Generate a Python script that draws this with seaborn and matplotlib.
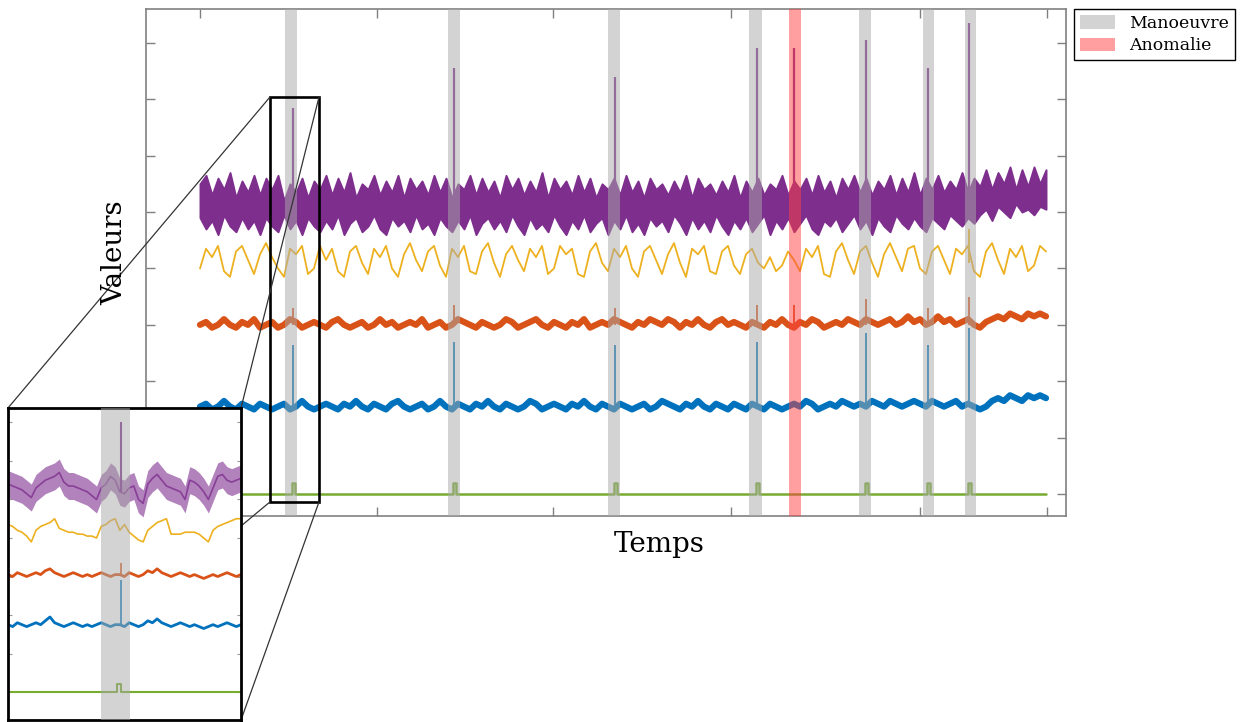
import numpy as np
import matplotlib
matplotlib.use('Agg')
import matplotlib.pyplot as plt
from matplotlib.patches import Patch, Rectangle, ConnectionPatch
import seaborn as sns

# ---- main window : one sample every 6 time steps ----
t_step = 6
purple_hi = [110, 113, 106, 112, 108, 114, 105, 111, 107, 113,
             106, 112, 108, 113, 104, 110, 107, 112, 105, 111,
             108, 113, 106, 112, 107, 114, 105, 110, 108, 113,
             106, 111, 107, 113, 105, 112, 108, 111, 106, 113,
             107, 112, 105, 110, 108, 113, 106, 112, 107, 111,
             105, 113, 108, 112, 106, 111, 107, 114, 105, 112,
             108, 111, 106, 113, 107, 112, 105, 110, 108, 112,
             106, 113, 107, 111, 105, 112, 108, 110, 106, 111,
             107, 113, 105, 112, 108, 110, 106, 111, 107, 113,
             105, 111, 107, 112, 106, 110, 108, 113, 106, 111,
             108, 112, 106, 113, 107, 111, 105, 112, 108, 113,
             107, 112, 106, 111, 108, 113, 106, 112, 107, 114,
             106, 112, 108, 113, 107, 111, 108, 114, 107, 112,
             109, 115, 108, 114, 110, 116, 108, 115, 109, 116,
             110, 115]
purple_lo = [98, 94, 97, 92, 99, 95, 93, 98, 94, 97,
             92, 98, 95, 93, 99, 94, 97, 92, 98, 95,
             93, 97, 94, 99, 92, 96, 98, 93, 95, 99,
             94, 92, 98, 95, 97, 93, 99, 94, 96, 92,
             98, 95, 93, 97, 94, 99, 92, 96, 98, 94,
             97, 93, 99, 95, 92, 98, 94, 96, 93, 99,
             95, 92, 97, 94, 99, 93, 96, 98, 92, 97,
             94, 99, 93, 96, 92, 98, 95, 97, 93, 99,
             96, 92, 98, 94, 97, 93, 99, 95, 92, 97,
             94, 98, 93, 96, 99, 92, 97, 94, 98, 93,
             96, 99, 94, 92, 97, 95, 98, 93, 96, 99,
             94, 97, 92, 98, 95, 93, 99, 96, 94, 98,
             95, 93, 98, 96, 94, 99, 97, 95, 98, 96,
             99, 101, 97, 102, 100, 98, 103, 100, 101, 99,
             102, 101]
yellow = [80, 87, 84, 88, 79, 77, 86, 88, 83, 78,
          85, 89, 84, 80, 77, 87, 85, 88, 78, 80,
          88, 83, 87, 79, 77, 86, 88, 82, 78, 87,
          84, 88, 80, 77, 85, 89, 83, 79, 86, 88,
          81, 77, 87, 84, 88, 79, 78, 86, 89, 82,
          77, 85, 88, 83, 79, 87, 84, 88, 78, 80,
          88, 85, 87, 78, 77, 86, 89, 82, 79, 87,
          84, 88, 80, 77, 86, 88, 83, 78, 85, 89,
          82, 77, 87, 85, 88, 79, 78, 86, 88, 81,
          78, 85, 87, 82, 80, 84, 79, 81, 86, 83,
          79, 87, 84, 88, 78, 77, 86, 89, 83, 78,
          86, 88, 82, 77, 85, 89, 84, 79, 87, 88,
          80, 78, 86, 88, 83, 78, 87, 85, 88, 79,
          77, 86, 89, 83, 78, 87, 84, 88, 79, 81,
          88, 86]
orange = [60, 61, 59, 60, 62, 60, 59, 61, 60, 62,
          59, 60, 61, 59, 60, 62, 61, 59, 60, 61,
          60, 59, 61, 62, 60, 59, 60, 61, 59, 60,
          62, 60, 61, 59, 60, 61, 60, 62, 59, 60,
          61, 59, 60, 62, 61, 60, 59, 61, 60, 59,
          60, 62, 61, 59, 60, 61, 62, 60, 59, 61,
          60, 59, 61, 60, 62, 59, 60, 61, 60, 62,
          61, 60, 59, 61, 60, 62, 61, 60, 62, 61,
          59, 61, 60, 62, 60, 59, 61, 62, 60, 61,
          60, 59, 61, 60, 59, 61, 60, 62, 60, 59,
          61, 60, 62, 61, 59, 60, 61, 60, 62, 61,
          60, 62, 61, 60, 61, 62, 60, 61, 63, 61,
          62, 60, 61, 63, 61, 62, 60, 61, 62, 60,
          59, 61, 62, 63, 62, 64, 63, 62, 64, 63,
          64, 63]
blue = [31, 32, 30, 31, 33, 31, 30, 32, 31, 30,
        32, 31, 30, 31, 32, 30, 31, 33, 31, 30,
        31, 32, 31, 30, 32, 31, 33, 31, 30, 32,
        31, 30, 32, 33, 31, 30, 31, 32, 30, 31,
        33, 31, 30, 32, 31, 30, 32, 31, 33, 31,
        30, 32, 31, 30, 31, 33, 32, 30, 31, 32,
        31, 30, 32, 31, 33, 31, 30, 32, 31, 30,
        32, 31, 30, 31, 32, 30, 31, 33, 32, 31,
        30, 32, 31, 33, 31, 30, 32, 31, 30, 32,
        31, 30, 32, 31, 30, 32, 31, 30, 31, 32,
        31, 33, 32, 30, 31, 32, 31, 33, 32, 31,
        32, 31, 33, 32, 31, 33, 32, 31, 32, 33,
        32, 31, 33, 32, 31, 32, 33, 31, 32, 31,
        30, 31, 33, 34, 33, 35, 34, 33, 35, 34,
        35, 34]

# events
man_start = [85, 248, 408, 549, 659, 723, 765]
man_end = [97, 260, 420, 562, 671, 734, 776]
man_t = [93, 254, 415, 557, 666, 728, 769]
anom_start = [589]
anom_end = [601]
anom_t = [594]
purple_peak = [137, 151, 148, 158, 161, 151, 167]
purple_anom_peak = [158]
blue_peak = [53, 54, 53, 54, 57, 53, 59]
orange_peak = [66, 67, 66, 67, 69, 66, 70]
orange_anom_peak = [67]
yellow_peak_t = [769]
yellow_peak = [94]
green_pulse = 4
xticks = [0, 177, 353, 531, 720, 847]

# ---- zoomed window around first manoeuvre ----
in_step = 2
in_purple = [108, 107, 106, 105, 103, 101, 106, 108, 110, 111,
             112, 114, 109, 107, 107, 106, 105, 104, 102, 100,
             106, 108, 112, 110, 104, 103, 106, 107, 100, 98,
             108, 111, 113, 110, 107, 106, 105, 104, 100, 110,
             109, 107, 104, 100, 106, 112, 113, 110, 109, 110,
             111]
in_purple_spread = 7
in_yellow = [87, 86, 84, 83, 81, 78, 84, 86, 87, 88,
             90, 85, 84, 83, 83, 82, 82, 81, 81, 80,
             86, 87, 89, 90, 84, 87, 83, 81, 79, 78,
             84, 86, 88, 89, 90, 82, 82, 82, 83, 83,
             83, 82, 80, 78, 84, 86, 87, 88, 89, 90,
             90]
in_orange = [61, 60, 62, 61, 60, 61, 62, 61, 63, 64,
             62, 61, 60, 61, 62, 61, 60, 61, 60, 61,
             62, 61, 60, 61, 61, 60, 62, 61, 60, 61,
             63, 62, 64, 62, 61, 60, 61, 62, 61, 60,
             61, 60, 59, 60, 61, 60, 61, 62, 61, 60,
             61]
in_blue = [35, 34, 36, 35, 34, 35, 36, 35, 37, 39,
           36, 35, 34, 35, 36, 35, 34, 35, 34, 35,
           36, 35, 34, 35, 35, 34, 36, 35, 34, 35,
           37, 36, 38, 36, 35, 34, 35, 36, 35, 34,
           35, 34, 33, 34, 35, 34, 35, 36, 35, 34,
           35]
in_man = (40, 52.4)
in_spike_t = [48.3]
in_purple_peak = [140]
in_orange_peak = [67]
in_blue_peak = [58]
zoom_box = (70, 119, -2.8, 140.8)   # t0, t1, y0, y1 in the main axes

PURPLE, YELLOW, ORANGE, BLUE, GREEN = '#7E2F8E', '#EDB120', '#D95319', '#0072BD', '#77AC30'
GREY_BAND, RED_BAND = '#a9a9a9', '#ff4040'

sns.set_style('white')
plt.rcParams['font.family'] = ['DejaVu Serif', 'DejaVu Sans']
plt.rcParams['text.color'] = 'black'

fig = plt.figure(figsize=(12.41, 7.22), dpi=100)
W, H = 1241, 722
ax = fig.add_axes([146 / W, 1 - 516 / H, 920 / W, 507 / H])


def pulses(centres, half, height, t_end):
    gx, gy = [0], [0]
    for c in centres:
        gx += [c - half, c - half, c + half, c + half]
        gy += [0, height, height, 0]
    gx.append(t_end)
    gy.append(0)
    return gx, gy


t = np.arange(len(purple_hi)) * t_step
ax.fill_between(t, purple_lo, purple_hi, color=PURPLE, lw=1.4, zorder=2)
sns.lineplot(x=t, y=yellow, color=YELLOW, lw=1.3, ax=ax, zorder=2)
sns.lineplot(x=t, y=orange, color=ORANGE, lw=4.5, ax=ax, zorder=2)
sns.lineplot(x=t, y=blue, color=BLUE, lw=4.5, ax=ax, zorder=2)
gx, gy = pulses(man_t, 1.5, green_pulse, t[-1])
sns.lineplot(x=gx, y=gy, color=GREEN, lw=1.8, ax=ax, estimator=None, sort=False, zorder=2)

ax.vlines(man_t + anom_t, 104, purple_peak + purple_anom_peak, color=PURPLE, lw=1.6, zorder=3)
ax.vlines(man_t + anom_t, 60, orange_peak + orange_anom_peak, color=ORANGE, lw=1.3, zorder=3)
ax.vlines(man_t, 31, blue_peak, color=BLUE, lw=1.3, zorder=3)
ax.vlines(yellow_peak_t, 82, yellow_peak, color=YELLOW, lw=1.3, zorder=3)

for s, e in zip(man_start, man_end):
    ax.axvspan(s, e, color=GREY_BAND, alpha=0.5, lw=0, zorder=5)
for s, e in zip(anom_start, anom_end):
    ax.axvspan(s, e, color=RED_BAND, alpha=0.5, lw=0, zorder=5)

x0, x1, y0, y1 = zoom_box
ax.add_patch(Rectangle((x0, y0), x1 - x0, y1 - y0, fill=False, ec='black', lw=1.9, zorder=6))

ax.set_xlim(-54, 866)
ax.set_ylim(-7.8, 172)
ax.set_xticks(xticks)
ax.set_yticks(range(0, 161, 20))
ax.tick_params(direction='in', length=6.5, width=1, color='#808080',
               bottom=True, top=True, left=True, right=True,
               labelbottom=False, labelleft=False)
for sp in ax.spines.values():
    sp.set_color('#808080')
    sp.set_linewidth(1.2)
ax.set_xlabel('')
ax.set_ylabel('')

# ---- inset ----
axins = fig.add_axes([8 / W, 1 - 720 / H, 233 / W, 312 / H], zorder=3)
ti = np.arange(len(in_purple)) * in_step
pc = np.array(in_purple)
axins.fill_between(ti, pc - in_purple_spread, pc + in_purple_spread, color=PURPLE, alpha=0.6, lw=0, zorder=2)
sns.lineplot(x=ti, y=in_purple, color=PURPLE, lw=1.2, alpha=0.8, ax=axins, zorder=2)
sns.lineplot(x=ti, y=in_yellow, color=YELLOW, lw=1.2, ax=axins, zorder=2)
sns.lineplot(x=ti, y=in_orange, color=ORANGE, lw=2.0, ax=axins, zorder=2)
sns.lineplot(x=ti, y=in_blue, color=BLUE, lw=2.0, ax=axins, zorder=2)
gx, gy = pulses([47.8], 0.9, green_pulse, ti[-1])
sns.lineplot(x=gx, y=gy, color=GREEN, lw=1.5, ax=axins, estimator=None, sort=False, zorder=2)
axins.vlines(in_spike_t, 104, in_purple_peak, color=PURPLE, lw=1.5, zorder=3)
axins.vlines(in_spike_t, 61, in_orange_peak, color=ORANGE, lw=1.2, zorder=3)
axins.vlines(in_spike_t, 35, in_blue_peak, color=BLUE, lw=1.2, zorder=3)
axins.axvspan(*in_man, color=GREY_BAND, alpha=0.5, lw=0, zorder=5)
axins.set_xlim(0, 100)
axins.set_ylim(-14.5, 147.5)
axins.set_xticks([])
axins.set_yticks(range(0, 141, 20))
axins.tick_params(direction='in', length=3, width=0.8, color='#999999',
                  left=True, right=True, labelleft=False)
for sp in axins.spines.values():
    sp.set_color('black')
    sp.set_linewidth(2)
axins.set_xlabel('')
axins.set_ylabel('')

# connectors from the zoom box to the inset corners
for xa, ya, xb, yb in [(x0, y1, 0, 1), (x1, y1, 1, 1), (x0, y0, 0, 0), (x1, y0, 1, 0)]:
    con = ConnectionPatch(xyA=(xa, ya), coordsA=ax.transData,
                          xyB=(xb, yb), coordsB=axins.transAxes,
                          color='#333333', lw=0.9)
    con.set_zorder(2)
    fig.add_artist(con)

fig.text(659 / W, 1 - 545 / H, 'Temps', ha='center', va='center', fontsize=20, color='black')
fig.text(115 / W, 1 - 253 / H, 'Valeurs', ha='center', va='center', rotation=90,
         fontsize=20, color='black')

handles = [Patch(facecolor=GREY_BAND, alpha=0.5, edgecolor='none', label='Manoeuvre'),
           Patch(facecolor=RED_BAND, alpha=0.5, edgecolor='none', label='Anomalie')]
leg = fig.legend(handles=handles, loc='upper left', bbox_to_anchor=(1074 / W, 1 - 9 / H),
                 frameon=True, fancybox=False, edgecolor='black', framealpha=1,
                 fontsize=12.5, handlelength=2.0, handleheight=0.8,
                 borderpad=0.35, labelspacing=0.3, borderaxespad=0)
leg.get_frame().set_linewidth(1)
for txt in leg.get_texts():
    txt.set_color('black')

fig.savefig('out.png', dpi=100)
